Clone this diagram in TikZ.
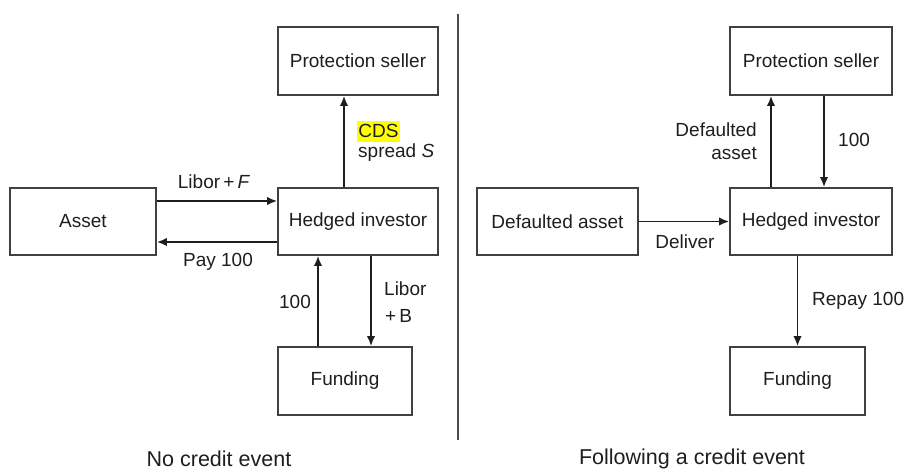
\documentclass[tikz,border=0pt]{standalone}
\usepackage{fontspec}
\setmainfont{Liberation Sans}
\usetikzlibrary{arrows.meta}
\definecolor{ink}{HTML}{1E1E1E}
\definecolor{hl}{HTML}{FFFF00}
\begin{document}
\begin{tikzpicture}[x=1pt,y=-1pt,
  txt/.style={font=\fontsize{19}{23}\selectfont, text=ink},
  box/.style={txt, draw=ink!85, line width=1.7pt, inner sep=0pt},
  lab/.style={txt, inner sep=0pt},
  captxt/.style={font=\fontsize{21.5}{25}\selectfont, text=ink, inner sep=0pt},
  arr/.style={draw=ink, line width=1.8pt, -{Latex[length=10pt,width=8.5pt]}}]
\useasboundingbox (0,0) rectangle (907,472);
% ---------- left panel ----------
\node[box, minimum width=160pt, minimum height=68pt] (ps1) at (358,61) {Protection seller};
\node[box, minimum width=146pt, minimum height=67pt] (as1) at (83,221.5) {Asset};
\node[box, minimum width=160pt, minimum height=67pt] (hi1) at (358,221.5) {Hedged investor};
\node[box, minimum width=134pt, minimum height=68pt] (fu1) at (345,381) {Funding};
\draw[arr] (as1.east |- 0,201) -- (hi1.west |- 0,201);
\draw[arr] (hi1.west |- 0,242) -- (as1.east |- 0,242);
\draw[arr] (344,0 |- hi1.north) -- (344,0 |- ps1.south);
\draw[arr] (318,0 |- fu1.north) -- (318,0 |- hi1.south);
\draw[arr] (371,0 |- hi1.south) -- (371,0 |- fu1.north);
\node[lab] (l1) at (214,182) {Libor\,+\,\textit{F}};
\node[lab] (l2) at (218,262) {Pay 100};
\node[lab, anchor=west, fill=hl, inner xsep=1.2pt, minimum height=21pt] (l3) at (357,131) {CDS};
\node[lab, anchor=west] (l4) at (358,153) {spread \textit{S}};
\node[lab] (l5) at (295,302) {100};
\node[lab, anchor=west] (l6) at (384,289) {Libor};
\node[lab, anchor=west] (l7) at (385,316) {+\,B};
\node[captxt] (c1) at (219,459) {No credit event};
% ---------- divider ----------
\coordinate (dt) at (458,14);
\coordinate (db) at (458,440);
\draw[ink!80, line width=1.8pt] (dt) -- (db);
% ---------- right panel ----------
\node[box, minimum width=162pt, minimum height=68pt] (ps2) at (811,61) {Protection seller};
\node[box, minimum width=161pt, minimum height=67pt] (da2) at (557.5,221.5) {Defaulted asset};
\node[box, minimum width=162pt, minimum height=67pt] (hi2) at (811,221.5) {Hedged investor};
\node[box, minimum width=135pt, minimum height=68pt] (fu2) at (797.5,381) {Funding};
\draw[arr] (da2.east) -- (hi2.west);
\draw[arr] (771,0 |- hi2.north) -- (771,0 |- ps2.south);
\draw[arr] (824,0 |- ps2.south) -- (824,0 |- hi2.north);
\draw[arr] (fu2.north |- hi2.south) -- (fu2.north);
\node[lab, anchor=east, align=right] (r1) at (757,141.5) {Defaulted\\asset};
\node[lab, anchor=west] (r2) at (838,140) {100};
\node[lab] (r3) at (685,242) {Deliver};
\node[lab, anchor=west] (r4) at (812,301) {Repay 100};
\node[captxt] (c2) at (692,459) {Following a credit event};
\end{tikzpicture}
\end{document}
